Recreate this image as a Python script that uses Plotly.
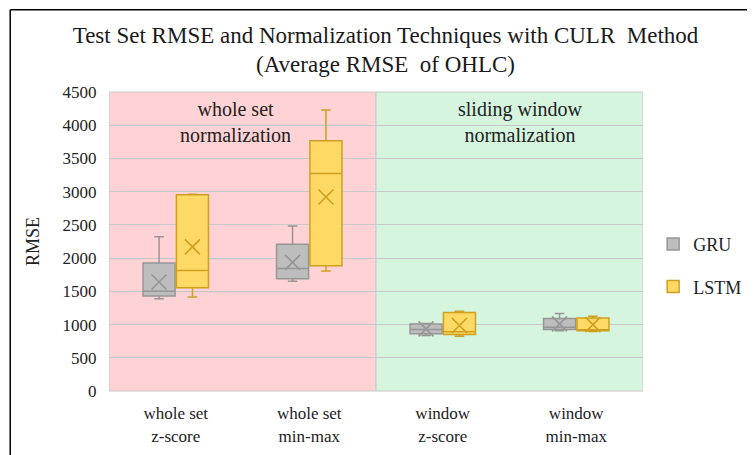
import numpy as np
import plotly.graph_objects as go

categories = ["whole set<br>z-score", "whole set<br>min-max", "window<br>z-score", "window<br>min-max"]

gru_lower = [1390, 1650, 835, 905]
gru_q1 = [1430, 1690, 860, 925]
gru_median = [1500, 1845, 925, 960]
gru_q3 = [1925, 2210, 1010, 1090]
gru_upper = [2320, 2485, 1015, 1165]
gru_mean = [1640, 1935, 935, 1010]

lstm_lower = [1415, 1805, 825, 895]
lstm_q1 = [1555, 1885, 850, 905]
lstm_median = [1815, 3275, 890, 920]
lstm_q3 = [2955, 3765, 1180, 1100]
lstm_upper = [2960, 4230, 1200, 1125]
lstm_mean = [2170, 2920, 985, 1000]

SERIF = "Liberation Serif, Times New Roman, serif"
GRU_FILL, GRU_LINE = "#BDBDBD", "#969696"
LSTM_FILL, LSTM_LINE = "#FFD966", "#CFA01E"

idx = np.arange(len(categories))
offset = 0.125

fig = go.Figure()
for name, shift, lo, q1, med, q3, hi, mean, fill, line in [
    ("GRU", -offset, gru_lower, gru_q1, gru_median, gru_q3, gru_upper, gru_mean, GRU_FILL, GRU_LINE),
    ("LSTM", offset, lstm_lower, lstm_q1, lstm_median, lstm_q3, lstm_upper, lstm_mean, LSTM_FILL, LSTM_LINE),
]:
    xs = idx + shift
    fig.add_box(
        x=xs,
        lowerfence=lo,
        q1=q1,
        median=med,
        q3=q3,
        upperfence=hi,
        width=0.24,
        whiskerwidth=0.3,
        fillcolor=fill,
        line=dict(color=line, width=1.5),
        name=name,
        legendgroup=name,
        boxpoints=False,
    )
    fig.add_scatter(
        x=xs,
        y=mean,
        mode="markers",
        marker=dict(symbol="x-thin-open", size=15, color=line, line=dict(color=line, width=1.6)),
        showlegend=False,
        hoverinfo="y",
    )

# background regions
fig.add_shape(type="rect", xref="x", yref="paper", x0=-0.5, x1=1.5, y0=0, y1=1,
              fillcolor="#FFD3D5", line=dict(color="#C8C8C8", width=1), layer="below")
fig.add_shape(type="rect", xref="x", yref="paper", x0=1.5, x1=3.5, y0=0, y1=1,
              fillcolor="#D5F5DF", line=dict(color="#C8C8C8", width=1), layer="below")

# outer frame (top and left edges)
fig.add_shape(type="line", xref="paper", yref="paper", x0=-0.185, x1=1.4, y0=1.275, y1=1.275,
              line=dict(color="black", width=1.5))
fig.add_shape(type="line", xref="paper", yref="paper", x0=-0.185, x1=-0.185, y0=-0.3, y1=1.275,
              line=dict(color="black", width=1.5))

fig.add_annotation(x=0.45, xref="x", y=0.985, yref="paper", text="whole set<br>normalization",
                   showarrow=False, yanchor="top",
                   font=dict(family=SERIF, size=20, color="#222"))
fig.add_annotation(x=2.58, xref="x", y=0.985, yref="paper", text="sliding window<br>normalization",
                   showarrow=False, yanchor="top",
                   font=dict(family=SERIF, size=20, color="#222"))

fig.update_layout(
    width=755,
    height=455,
    margin=dict(l=101, r=120, t=84, b=72),
    paper_bgcolor="white",
    plot_bgcolor="white",
    title=dict(
        text="Test Set RMSE and Normalization Techniques with CULR  Method<br>(Average RMSE  of OHLC)",
        x=0.5,
        xanchor="center",
        y=0.924,
        yanchor="top",
        font=dict(family=SERIF, size=23, color="#1a1a1a"),
    ),
    font=dict(family=SERIF, size=17, color="#222"),
    showlegend=True,
    legend=dict(x=1.019, y=0.42, xanchor="left", yanchor="middle",
                font=dict(family=SERIF, size=18), tracegroupgap=16),
)
fig.update_xaxes(
    tickmode="array",
    tickvals=idx,
    ticktext=categories,
    range=[-0.5, 3.5],
    showgrid=False,
    zeroline=False,
    ticks="outside",
    ticklen=7,
    tickcolor="rgba(0,0,0,0)",
    tickfont=dict(family=SERIF, size=17),
)
fig.update_yaxes(
    range=[0, 4500],
    dtick=500,
    showgrid=True,
    gridcolor="#C8C8C8",
    gridwidth=1,
    zeroline=False,
    ticks="outside",
    ticklen=8,
    tickcolor="rgba(0,0,0,0)",
    title=dict(text="RMSE", font=dict(family=SERIF, size=18), standoff=18),
    tickfont=dict(family=SERIF, size=17),
)

fig.write_html("out.html")
